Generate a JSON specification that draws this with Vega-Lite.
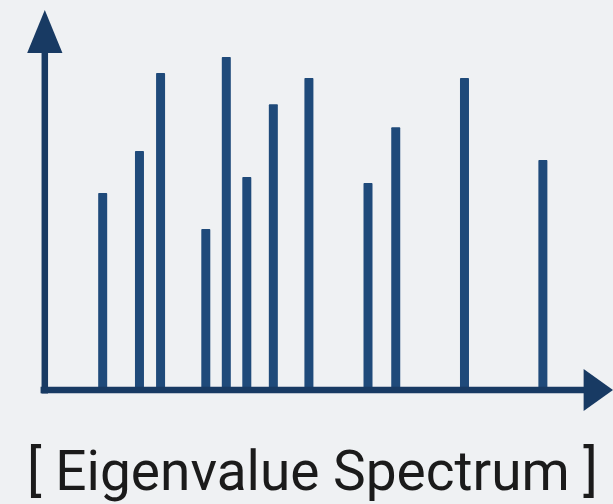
{
  "$schema": "https://vega.github.io/schema/vega-lite/v6.json",
  "width": 613,
  "height": 504,
  "autosize": "none",
  "padding": 0,
  "background": "#eff1f3",
  "config": {"view": {"stroke": null}},
  "datasets": {
    "bars": [
      {"pos": 16.2, "value": 50.5},
      {"pos": 22.3, "value": 61.3},
      {"pos": 25.8, "value": 81.3},
      {"pos": 33.3, "value": 41.3},
      {"pos": 36.7, "value": 85.4},
      {"pos": 40.1, "value": 54.6},
      {"pos": 44.5, "value": 73.3},
      {"pos": 50.4, "value": 80.0},
      {"pos": 60.2, "value": 53.1},
      {"pos": 64.8, "value": 67.4},
      {"pos": 76.2, "value": 80.0},
      {"pos": 89.2, "value": 59.0}
    ],
    "axes": [
      {"axis": "y", "x1": 6.6, "y1": -0.9, "x2": 6.6, "y2": 88.5},
      {"axis": "x", "x1": 5.9, "y1": 0, "x2": 96.5, "y2": 0}
    ],
    "heads": [
      {"axis": "y", "x": 6.6, "y": 91.9},
      {"axis": "x", "x": 98.4, "y": 0}
    ],
    "label": [
      {"x": 51.0, "y": -25.6, "text": "[ Eigenvalue Spectrum ]"}
    ]
  },
  "layer": [
    {
      "data": {"name": "bars"},
      "mark": {"type": "bar", "width": 9, "color": "#1f4a7a", "cornerRadiusTopLeft": 1, "cornerRadiusTopRight": 1},
      "encoding": {
        "x": {"field": "pos", "type": "quantitative", "scale": {"domain": [0, 100]}, "axis": null},
        "y": {"field": "value", "type": "quantitative", "scale": {"domain": [-29.23, 100]}, "axis": null},
        "y2": {"datum": 0}
      }
    },
    {
      "data": {"name": "axes"},
      "mark": {"type": "rule", "color": "#183a63", "strokeWidth": 6.5},
      "encoding": {
        "x": {"field": "x1", "type": "quantitative", "scale": {"domain": [0, 100]}, "axis": null},
        "y": {"field": "y1", "type": "quantitative", "scale": {"domain": [-29.23, 100]}, "axis": null},
        "x2": {"field": "x2"},
        "y2": {"field": "y2"}
      }
    },
    {
      "data": {"name": "heads"},
      "transform": [{"filter": "datum.axis === 'y'"}],
      "mark": {"type": "point", "filled": true, "opacity": 1, "color": "#183a63", "shape": "M-0.82,1L0,-1L0.82,1Z", "size": 1849},
      "encoding": {
        "x": {"field": "x", "type": "quantitative", "scale": {"domain": [0, 100]}, "axis": null},
        "y": {"field": "y", "type": "quantitative", "scale": {"domain": [-29.23, 100]}, "axis": null}
      }
    },
    {
      "data": {"name": "heads"},
      "transform": [{"filter": "datum.axis === 'x'"}],
      "mark": {"type": "point", "filled": true, "opacity": 1, "color": "#183a63", "shape": "M-0.7,-1L0.7,0L-0.7,1Z", "size": 1764},
      "encoding": {
        "x": {"field": "x", "type": "quantitative", "scale": {"domain": [0, 100]}, "axis": null},
        "y": {"field": "y", "type": "quantitative", "scale": {"domain": [-29.23, 100]}, "axis": null}
      }
    },
    {
      "data": {"name": "label"},
      "mark": {"type": "text", "font": "Roboto", "fontSize": 55, "color": "#1b1b1b", "align": "center", "baseline": "alphabetic"},
      "encoding": {
        "x": {"field": "x", "type": "quantitative", "scale": {"domain": [0, 100]}, "axis": null},
        "y": {"field": "y", "type": "quantitative", "scale": {"domain": [-29.23, 100]}, "axis": null},
        "text": {"field": "text"}
      }
    }
  ]
}
